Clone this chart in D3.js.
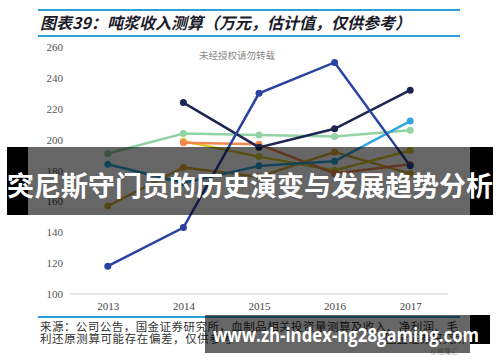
<!DOCTYPE html>
<html>
<head>
<meta charset="utf-8">
<script src="https://cdn.jsdelivr.net/npm/d3@7"></script>
<style>
  body { margin: 0; background: #fff; }
  svg { display: block; }
</style>
</head>
<body>
<svg></svg>
<script>
const width = 500;
const height = 362;

const years = ['2013', '2014', '2015', '2016', '2017'];
const yTicks = [100, 120, 140, 160, 180, 200, 220, 240, 260];

// one array per line, null = no point that year
const royalBlue = [118, 143, 230, 250, 183];
const navy = [null, 224, 195, 207, 232];
const lightGreen = [191, 204, 203, 202, 206];
const orange = [null, 198, 197, 178, 184];
const yellow = [null, 199, 189, 180, 193];
const gold = [157, 182, 176, 192, 178];
const skyBlue = [184, 172, 183, 186, 212];

const seriesList = [
  { values: lightGreen, color: '#93d2a3' },
  { values: gold, color: '#d6ad35' },
  { values: yellow, color: '#d8cb2c' },
  { values: orange, color: '#f2874f' },
  { values: skyBlue, color: '#2fa6dc' },
  { values: navy, color: '#1d2550' },
  { values: royalBlue, color: '#2a43a2' }
];

const svg = d3.select('svg')
  .attr('width', width)
  .attr('height', height);

const x = d3.scalePoint()
  .domain(years)
  .range([70, 448])
  .padding(0.5);

const y = d3.scaleLinear()
  .domain([100, 260])
  .range([294, 47]);

// title band
svg.append('line')
  .attr('x1', 38).attr('x2', 460).attr('y1', 10).attr('y2', 10)
  .attr('stroke', '#2b9fd8').attr('stroke-width', 2);
svg.append('line')
  .attr('x1', 38).attr('x2', 460).attr('y1', 36).attr('y2', 36)
  .attr('stroke', '#2b9fd8').attr('stroke-width', 2);
svg.append('text')
  .attr('x', 40).attr('y', 29)
  .attr('font-family', '"Noto Sans CJK SC", sans-serif')
  .attr('font-size', 16)
  .attr('font-weight', 'bold')
  .attr('font-style', 'italic')
  .attr('fill', '#1b1b2a')
  .text('图表39：吨浆收入测算（万元，估计值，仅供参考）');

// y labels
svg.append('g')
  .attr('transform', 'translate(63,0)')
  .call(d3.axisLeft(y).tickValues(yTicks).tickSize(0).tickPadding(0))
  .call(g => g.select('.domain').remove())
  .selectAll('text')
    .attr('font-family', '"Liberation Serif", serif')
    .attr('font-size', 11)
    .attr('fill', '#555');

// x axis
svg.append('g')
  .attr('transform', 'translate(0,294)')
  .call(d3.axisBottom(x).tickSize(0).tickPadding(8))
  .call(g => g.select('.domain').attr('stroke', '#d0d0d0').attr('d', 'M70,0H448'))
  .selectAll('text')
    .attr('font-family', '"Liberation Serif", serif')
    .attr('font-size', 11)
    .attr('fill', '#444');

svg.append('text')
  .attr('x', 237).attr('y', 59)
  .attr('text-anchor', 'middle')
  .attr('font-family', '"Noto Sans CJK SC", sans-serif')
  .attr('font-size', 9.5)
  .attr('fill', '#888')
  .text('未经授权请勿转载');

const line = d3.line()
  .defined(d => d.v != null)
  .x(d => x(d.year))
  .y(d => y(d.v));

seriesList.forEach(s => {
  const pts = s.values.map((v, i) => ({ year: years[i], v }));
  svg.append('path')
    .datum(pts)
    .attr('fill', 'none')
    .attr('stroke', s.color)
    .attr('stroke-width', 2.5)
    .attr('d', line);
  svg.selectAll(null)
    .data(pts.filter(d => d.v != null))
    .enter()
    .append('circle')
      .attr('cx', d => x(d.year))
      .attr('cy', d => y(d.v))
      .attr('r', 3.5)
      .attr('fill', s.color);
});

// footer
svg.append('line')
  .attr('x1', 38).attr('x2', 460).attr('y1', 317).attr('y2', 317)
  .attr('stroke', '#2b9fd8').attr('stroke-width', 2);

const foot = svg.append('g')
  .attr('font-family', '"Noto Sans CJK SC", sans-serif')
  .attr('font-size', 11.5)
  .attr('fill', '#333');
foot.append('text').attr('x', 40).attr('y', 331)
  .attr('textLength', 418)
  .text('来源：公司公告，国金证券研究所，血制品相关投资量测算及收入、净利润、毛');
foot.append('text').attr('x', 40).attr('y', 343)
  .attr('textLength', 193)
  .text('利还原测算可能存在偏差，仅供参考');
foot.append('text').attr('x', 385).attr('y', 343)
  .text('国金证券研究所');
svg.append('text')
  .attr('x', 458).attr('y', 354)
  .attr('text-anchor', 'end')
  .attr('font-family', '"Noto Sans CJK SC", sans-serif')
  .attr('font-size', 7)
  .attr('fill', '#aaa')
  .text('@格隆汇');

// overlay banner across the middle
svg.append('rect')
  .attr('x', 7).attr('y', 147).attr('width', 21).attr('height', 68)
  .attr('fill', '#000');
svg.append('rect')
  .attr('x', 470).attr('y', 147).attr('width', 23).attr('height', 68)
  .attr('fill', '#000');
svg.append('rect')
  .attr('x', 28).attr('y', 147).attr('width', 442).attr('height', 68)
  .attr('fill', 'rgba(0,0,0,0.6)');
svg.append('text')
  .attr('x', 250).attr('y', 196)
  .attr('text-anchor', 'middle')
  .attr('font-family', '"Noto Sans CJK SC", sans-serif')
  .attr('font-size', 27)
  .attr('font-weight', 'bold')
  .attr('fill', '#fff')
  .text('突尼斯守门员的历史演变与发展趋势分析');

// overlay at the bottom
svg.append('rect')
  .attr('x', 470).attr('y', 315).attr('width', 20).attr('height', 29)
  .attr('fill', '#000');
svg.append('rect')
  .attr('x', 205).attr('y', 315).attr('width', 265).attr('height', 38)
  .attr('fill', 'rgba(0,0,0,0.6)');
svg.append('text')
  .attr('x', 213).attr('y', 342)
  .attr('font-family', '"Open Sans", sans-serif')
  .attr('font-size', 19)
  .attr('font-weight', 'bold')
  .attr('textLength', 266)
  .attr('lengthAdjust', 'spacingAndGlyphs')
  .attr('fill', '#fff')
  .text('www.zh-index-ng28gaming.com');
</script>
</body>
</html>
